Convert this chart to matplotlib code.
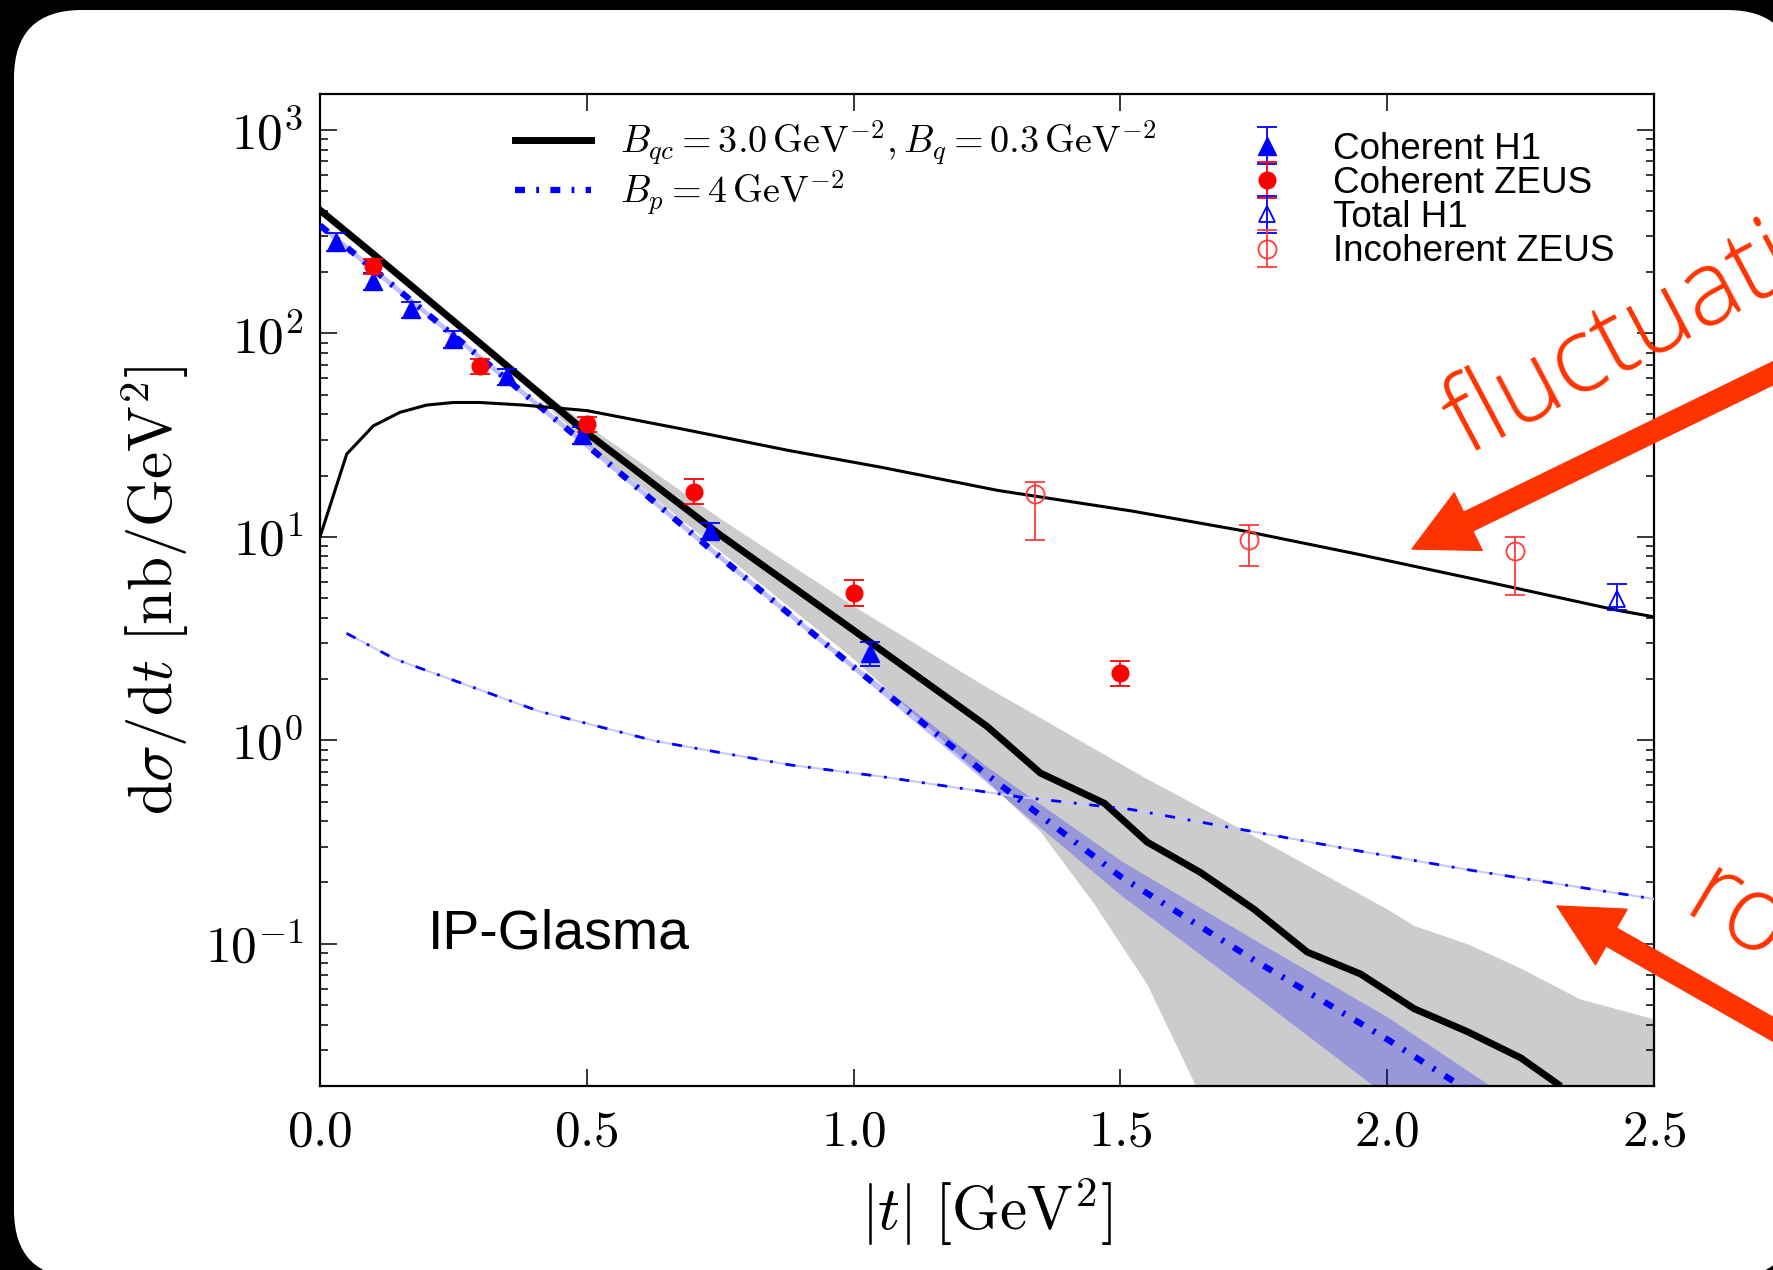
import numpy as np
import matplotlib
matplotlib.use("Agg")
import matplotlib.pyplot as plt
from matplotlib.patches import FancyBboxPatch, FancyArrowPatch
from matplotlib.ticker import FuncFormatter, LogLocator, NullFormatter

plt.rcParams["mathtext.fontset"] = "cm"
plt.rcParams["font.family"] = ["Liberation Sans", "DejaVu Sans"]


# Theory curves (|t| in GeV^2, dsigma/dt in nb/GeV^2)

# coherent, fluctuating proton (B_qc = 3.0, B_q = 0.3)
t_coh = [0, 0.1, 0.25, 0.5, 0.75, 1.0, 1.25, 1.35, 1.47, 1.55, 1.65, 1.75,
         1.85, 1.95, 2.05, 2.15, 2.25, 2.32]
coh_fluct = [403, 245, 115, 32.4, 10.2, 3.47, 1.17, 0.69, 0.49, 0.316, 0.224,
             0.148, 0.091, 0.071, 0.048, 0.037, 0.0275, 0.0204]

# band around the coherent fluctuating curve
t_band = [0.35, 0.5, 0.75, 1.0, 1.25, 1.35, 1.45, 1.55, 1.65, 1.75, 2.0, 2.05,
          2.15, 2.25, 2.36, 2.5]
band_hi = [70.8, 35.5, 12.3, 4.57, 1.82, 1.29, 0.912, 0.646, 0.468, 0.339,
           0.148, 0.123, 0.100, 0.0759, 0.0537, 0.0427]
band_lo = [67.6, 28.8, 8.51, 2.51, 0.631, 0.355, 0.158, 0.063, 0.0178, 0.01,
           0.01, 0.01, 0.01, 0.01, 0.01, 0.01]

# coherent, round proton (B_p = 4)
t_round = [0, 0.25, 0.5, 0.75, 1.0, 1.25, 1.5, 1.75, 2.0, 2.2]
coh_round = [339, 97.7, 28.2, 7.94, 2.29, 0.676, 0.214, 0.0832, 0.0339, 0.0158]
round_lo = [327, 94.4, 27.2, 7.67, 2.21, 0.617, 0.174, 0.0562, 0.0178, 0.0079]
round_hi = [351, 101, 29.2, 8.22, 2.37, 0.741, 0.257, 0.105, 0.0437, 0.0195]

# incoherent, fluctuating proton
t_inc = [0, 0.05, 0.1, 0.15, 0.2, 0.25, 0.3, 0.38, 0.5, 0.68, 0.88, 1.05,
         1.27, 1.52, 1.73, 1.94, 2.16, 2.43, 2.5]
inc_fluct = [10.0, 25.5, 35.1, 40.9, 44.4, 45.7, 45.7, 44.4, 41.7, 33.8, 26.5,
             22.0, 16.9, 13.4, 10.7, 8.26, 6.22, 4.36, 4.04]

# incoherent, round proton
t_inc_round = [0.05, 0.14, 0.23, 0.41, 0.63, 0.88, 1.05, 1.31, 1.52, 1.73,
               1.94, 2.16, 2.5]
inc_round = [3.35, 2.51, 2.06, 1.39, 0.989, 0.757, 0.664, 0.527, 0.457, 0.363,
             0.288, 0.229, 0.166]

# Data points
h1_coh_t = [0.03, 0.10, 0.17, 0.25, 0.35, 0.49, 0.73, 1.03]
h1_coh = [282, 181, 131, 93.6, 61.5, 31.5, 10.7, 2.68]
h1_coh_err = [28, 17, 12, 8.5, 5.5, 3.0, 1.0, 0.35]

zeus_coh_t = [0.10, 0.30, 0.50, 0.70, 1.00, 1.50]
zeus_coh = [214, 69, 35.8, 16.6, 5.3, 2.15]
zeus_coh_err = [[18, 6, 3, 2.1, 0.75, 0.3], [18, 6, 3, 2.6, 0.8, 0.3]]

h1_tot_t = [2.43]
h1_tot = [4.95]
h1_tot_err = [[0.6], [0.9]]

zeus_inc_t = [1.34, 1.74, 2.24]
zeus_inc = [16.3, 9.6, 8.5]
zeus_inc_err = [[6.7, 2.4, 3.35], [2.2, 1.8, 1.5]]

x_ticks = [0.0, 0.5, 1.0, 1.5, 2.0, 2.5]

RED_NOTE = "#ff3300"
DPI = 100


def draw_card(fig):
    # white rounded slide card on a black background, in inches
    card = FancyBboxPatch((0.14, -0.08), 17.81, 12.68,
                          boxstyle="round,pad=0,rounding_size=0.68",
                          transform=fig.dpi_scale_trans,
                          facecolor="white", edgecolor="none", zorder=-1)
    fig.add_artist(card)


def draw_notes(fig):
    # red hand-made annotations of the slide (positions in pixels from bottom-left)
    px = lambda x, y: (x / DPI, y / DPI)
    arrow_style = "simple,head_length=45,head_width=46,tail_width=15"
    for tail, tip in [((1901, 959), (1412, 721)), ((1904, 166), (1557, 364))]:
        arr = FancyArrowPatch(px(*tail), px(*tip), arrowstyle=arrow_style,
                              mutation_scale=1, shrinkA=0, shrinkB=0,
                              transform=fig.dpi_scale_trans,
                              color=RED_NOTE, zorder=10)
        fig.add_artist(arr)

    note_kw = dict(transform=fig.dpi_scale_trans, color=RED_NOTE, fontsize=76,
                   family=["Open Sans", "DejaVu Sans"], fontweight="light",
                   ha="left", va="baseline", rotation_mode="anchor", zorder=11)
    fig.text(*px(1466, 814), "fluctuations", rotation=28, **note_kw)
    fig.text(*px(1680, 356), "round", rotation=-31, **note_kw)


def main():
    fig = plt.figure(figsize=(17.74, 12.70), dpi=DPI)
    fig.patch.set_facecolor("black")
    draw_card(fig)

    ax = fig.add_axes([0.1804, 0.1449, 0.752, 0.7811])
    ax.set_facecolor("white")

    # uncertainty bands
    ax.fill_between(t_band, band_lo, band_hi, color="#cccccc", lw=0, zorder=1)
    ax.fill_between(t_round, round_lo, round_hi, color="blue", alpha=0.25,
                    lw=0, zorder=2)

    # theory curves
    ax.plot(t_coh, coh_fluct, color="black", lw=5, zorder=4,
            label=r"$B_{qc} = 3.0\,\mathrm{GeV}^{-2}, B_q = 0.3\,\mathrm{GeV}^{-2}$")
    ax.plot(t_round, coh_round, color="blue", lw=4.5, zorder=4,
            ls=(0, (1.6, 1.8, 0.45, 1.8)), dash_capstyle="butt",
            label=r"$B_p = 4\,\mathrm{GeV}^{-2}$")
    ax.plot(t_inc, inc_fluct, color="black", lw=2.2, zorder=4)
    ax.plot(t_inc_round, inc_round, color="#c8c8ff", lw=1.5, zorder=3)
    ax.plot(t_inc_round, inc_round, color="blue", lw=2.0, zorder=4,
            ls=(0, (3.6, 4.6, 1.0, 4.6)), dash_capstyle="butt")

    # data
    eb_kw = dict(ls="none", capsize=7, elinewidth=1.3, capthick=1.3, zorder=6)
    e1 = ax.errorbar(h1_coh_t, h1_coh, yerr=h1_coh_err, fmt="^", color="blue",
                     ms=13, mec="blue", label="Coherent H1", **eb_kw)
    e2 = ax.errorbar(zeus_coh_t, zeus_coh, yerr=zeus_coh_err, fmt="o", color="red",
                     ms=12, mec="red", label="Coherent ZEUS", **eb_kw)
    e3 = ax.errorbar(h1_tot_t, h1_tot, yerr=h1_tot_err, fmt="^", color="blue",
                     ms=12, mfc="none", mec="blue", mew=1.3, label="Total H1", **eb_kw)
    e4 = ax.errorbar(zeus_inc_t, zeus_inc, yerr=zeus_inc_err, fmt="o",
                     color="#ff3b3b", ms=13, mfc="none", mec="#ff3b3b", mew=1.3,
                     label="Incoherent ZEUS", **eb_kw)

    ax.set_yscale("log")
    ax.set_xlim(0, 2.5)
    ax.set_ylim(0.02, 1500)

    ax.set_xticks(x_ticks)
    ax.xaxis.set_major_formatter(FuncFormatter(lambda v, _: rf"${v:.1f}$"))
    ax.yaxis.set_major_locator(LogLocator(base=10, numticks=20))
    ax.yaxis.set_minor_locator(LogLocator(base=10, subs=np.arange(2, 10), numticks=20))
    ax.yaxis.set_major_formatter(
        FuncFormatter(lambda v, _: rf"$10^{{{int(round(np.log10(v)))}}}$"))
    ax.yaxis.set_minor_formatter(NullFormatter())

    ax.tick_params(which="both", direction="in", top=True, right=True,
                   width=1.1, labelsize=37)
    ax.tick_params(which="major", length=12)
    ax.tick_params(which="minor", length=6)
    ax.tick_params(axis="x", pad=16)
    ax.tick_params(axis="y", pad=12)
    for s in ax.spines.values():
        s.set_linewidth(1.6)

    ax.set_xlabel(r"$|t|\ [\mathrm{GeV}^2]$", fontsize=44)
    ax.set_ylabel(r"$\mathrm{d}\sigma/\mathrm{d}t\ [\mathrm{nb}/\mathrm{GeV}^2]$",
                  fontsize=44)
    ax.xaxis.set_label_coords(0.5, -0.09)
    ax.yaxis.set_label_coords(-0.097, 0.5)

    ax.text(0.081, 0.139, "IP-Glasma", transform=ax.transAxes, fontsize=40,
            ha="left", va="baseline")

    # legends
    line_handles, line_labels = ax.get_legend_handles_labels()
    leg1 = ax.legend(line_handles[:2], line_labels[:2], loc="upper left",
                     bbox_to_anchor=(0.146, 0.975), frameon=False, fontsize=27.5,
                     borderpad=0, borderaxespad=0, handlelength=2.0,
                     handletextpad=0.75, labelspacing=0.02)
    ax.add_artist(leg1)
    ax.legend([e1, e2, e3, e4],
              ["Coherent H1", "Coherent ZEUS", "Total H1", "Incoherent ZEUS"],
              loc="upper left", bbox_to_anchor=(0.696, 0.962), frameon=False,
              fontsize=26.5, borderpad=0, borderaxespad=0, handlelength=1.0,
              handletextpad=1.3, labelspacing=-0.02, numpoints=1)

    draw_notes(fig)
    fig.savefig("out.png", dpi=DPI, facecolor=fig.get_facecolor())
    plt.close(fig)


if __name__ == "__main__":
    main()
